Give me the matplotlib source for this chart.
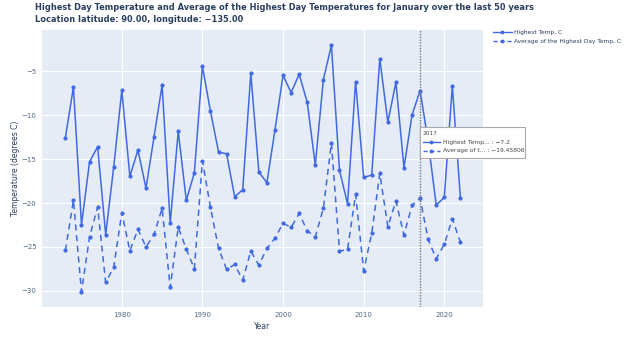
import numpy as np
import matplotlib.pyplot as plt
from matplotlib.lines import Line2D

## Data
years = list(range(1973, 2023))
highest_temp = [-12.56, -6.79, -22.5, -15.3, -13.59, -23.6, -15.87, -7.17, -16.97, -13.97,
                -18.3, -12.45, -6.56, -22.3, -11.84, -19.7, -16.55, -4.43, -9.56, -14.19,
                -14.4, -19.29, -18.49, -5.23, -16.47, -17.69, -11.65, -5.46, -7.43, -5.34,
                -8.53, -15.68, -5.95, -2.04, -16.28, -20.08, -6.18, -17.08, -16.82, -3.56,
                -10.81, -6.25, -15.98, -9.98, -7.2, -13.0, -20.24, -19.36, -6.67, -19.4]
avg_highest = [-25.4, -19.7, -30.1, -23.85, -20.46, -29.05, -27.3, -21.1, -25.44, -23.0,
               -25.0, -23.58, -20.6, -29.6, -22.78, -25.25, -27.5, -15.2, -20.5, -25.17,
               -27.57, -27.0, -28.78, -25.48, -27.07, -25.17, -24.0, -22.29, -22.78, -21.19,
               -23.16, -23.85, -20.6, -13.17, -25.48, -25.29, -19.02, -27.72, -23.47, -16.63,
               -22.7, -19.78, -23.65, -20.27, -19.45806, -24.15, -26.35, -24.7, -21.8, -24.45]
series_names = ["Highest Temp, C", "Average of the Highest Day Temp, C"]
hover_year = 2017

blue = '#4169e1'
txt = '#2a3f5f'

fig = plt.figure(figsize=(6.24, 3.43), dpi=100)
ax = fig.add_axes([0.0673, 0.106, 0.7067, 0.8065])
ax.set_facecolor('#e5ecf6')
for s in ax.spines.values():
    s.set_visible(False)
ax.grid(True, color='white', linewidth=0.8)
ax.set_axisbelow(True)

ax.plot(years, highest_temp, color=blue, lw=1.1, marker='o', ms=2.0, label=series_names[0])
ax.plot(years, avg_highest, color=blue, lw=1.1, ls=(0, (4, 3)), marker='o', ms=2.0,
        label=series_names[1])

## hover spike line
ax.axvline(hover_year, color='#777777', lw=1.0, ls=(0, (1, 1)))

ax.set_xlim(1970.1, 2024.8)
ax.set_ylim(-31.8, -0.3)
ax.set_xticks([1980, 1990, 2000, 2010, 2020])
ax.set_yticks([-5, -10, -15, -20, -25, -30])
ax.set_yticklabels(['\u22125', '\u221210', '\u221215', '\u221220', '\u221225', '\u221230'])
ax.tick_params(length=0, labelsize=5, colors='#506784', pad=4)
ax.set_xlabel('Year', fontsize=5.5, color=txt, labelpad=3)
ax.set_ylabel('Temperature (degrees C)', fontsize=5.5, color=txt, labelpad=1)

fig.text(0.056, 0.99, 'Highest Day Temperature and Average of the Highest Day Temperatures for January over the last 50 years',
         fontsize=5.95, fontweight='bold', color=txt, va='top')
fig.text(0.056, 0.955, 'Location latitude: 90.00, longitude: \u2212135.00',
         fontsize=5.95, fontweight='bold', color=txt, va='top')

## legend
h1 = Line2D([], [], color=blue, lw=1.0, marker='o', ms=1.8)
h2 = Line2D([], [], color=blue, lw=1.0, ls=(0, (3, 2)), marker='o', ms=1.8)
fig.legend([h1, h2], series_names, loc='upper left', bbox_to_anchor=(0.79, 0.912),
           frameon=False, fontsize=4.2, labelcolor=txt, handlelength=3.2,
           handletextpad=0.4, labelspacing=0.55, borderaxespad=0, borderpad=0)

## hover tooltip
idx = years.index(hover_year)
bx, by, bw, bh = 0.673, 0.539, 0.169, 0.091
box = plt.Rectangle((bx, by), bw, bh, transform=fig.transFigure, facecolor='white',
                    edgecolor='#aaaaaa', lw=0.8, zorder=10)
fig.add_artist(box)
fig.text(bx + 0.005, by + bh - 0.012, str(hover_year), fontsize=4.2, color='#444444',
         va='top', zorder=11)
rows = ['Highest Temp... : %s' % str(highest_temp[idx]).replace('-', '\u2212'),
        'Average of t... : %s' % str(avg_highest[idx]).replace('-', '\u2212')]
styles = ['-', (0, (3, 2))]
for k in range(2):
    yy = by + bh - 0.045 - k * 0.024
    fig.add_artist(Line2D([bx + 0.005, bx + 0.032], [yy, yy], transform=fig.transFigure,
                          color=blue, lw=1.0, ls=styles[k], zorder=11))
    fig.add_artist(Line2D([bx + 0.0185], [yy], transform=fig.transFigure, color=blue,
                          marker='o', ms=1.8, zorder=12))
    fig.text(bx + 0.037, yy, rows[k], fontsize=4.3, color='#444444', va='center', zorder=11)

fig.savefig('out.png', dpi=100)
